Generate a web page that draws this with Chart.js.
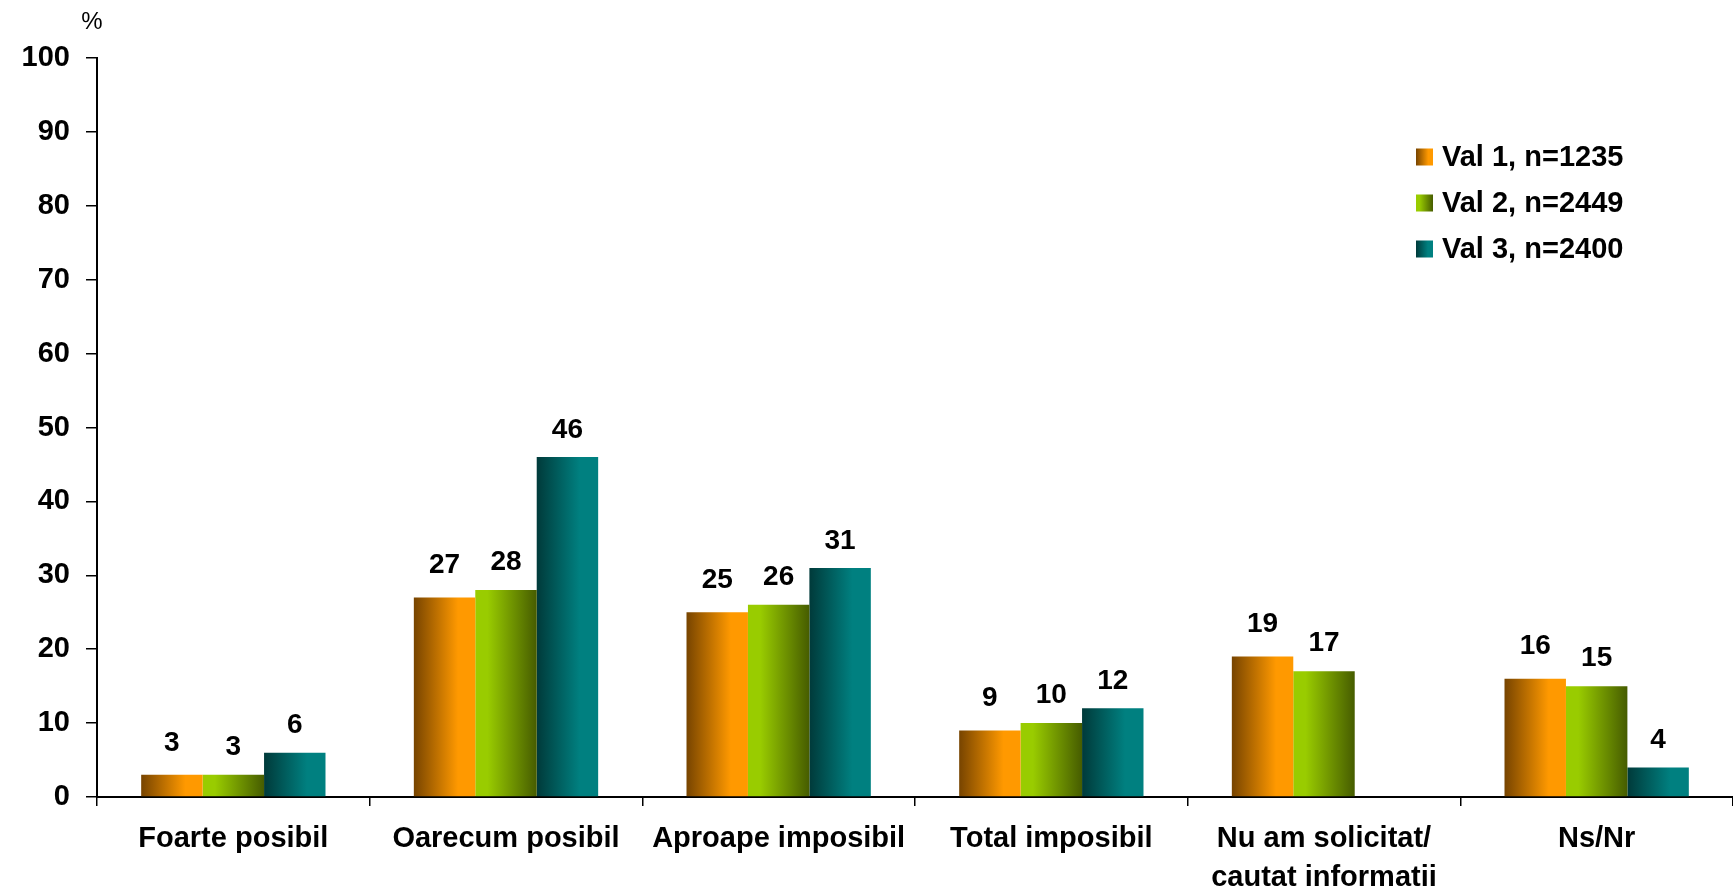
<!DOCTYPE html>
<html>
<head>
<meta charset="utf-8">
<script src="https://cdn.jsdelivr.net/npm/chart.js@4/dist/chart.umd.min.js"></script>
<style>
  body { margin: 0; background: #fff; }
  #wrap { width: 1733px; height: 889px; }
</style>
</head>
<body>
<div id="wrap"><canvas id="grafic" width="1733" height="889"></canvas></div>
<script>
const categorii = ["Foarte posibil", "Oarecum posibil", "Aproape imposibil", "Total imposibil", ["Nu am solicitat/", "cautat informatii"], "Ns/Nr"];
const etichete = ["Val 1, n=1235", "Val 2, n=2449", "Val 3, n=2400"];
const val1 = [3, 27, 25, 9, 19, 16];
const val2 = [3, 28, 26, 10, 17, 15];
const val3 = [6, 46, 31, 12, null, 4];
const tickuriY = [0, 10, 20, 30, 40, 50, 60, 70, 80, 90, 100];

// culori gradient (stanga -> dreapta) pentru fiecare serie
const gradienti = [
  [[0, "#774400"], [0.72, "#ff9900"], [1, "#ff9900"]],
  [[0, "#99cc00"], [0.2, "#99cc00"], [1, "#465c00"]],
  [[0, "#003a3a"], [0.7, "#008080"], [1, "#008080"]]
];
const catPct = 0.676;
const familie = "'Liberation Sans', Arial, sans-serif";

function faGradient(ctx, x0, w, stops) {
  const g = ctx.createLinearGradient(x0, 0, x0 + w, 0);
  stops.forEach(s => g.addColorStop(s[0], s[1]));
  return g;
}

function culoareBara(c) {
  const chart = c.chart;
  const sx = chart.scales.x;
  const stops = gradienti[c.datasetIndex];
  if (!sx || c.type !== "data") return stops[1][1];
  const latCat = (sx.right - sx.left) / categorii.length;
  const grup = latCat * catPct;
  const lat = grup / 3;
  const st = sx.getPixelForValue(c.dataIndex) - grup / 2 + c.datasetIndex * lat;
  if (!isFinite(st) || !isFinite(lat) || lat <= 0) return stops[1][1];
  return faGradient(chart.ctx, st, lat, stops);
}

// etichete de valori, legenda si "%"
const decalaj = [32, 28, 27];
const pluginExtra = {
  id: "extra",
  afterDatasetsDraw(chart) {
    const ctx = chart.ctx;
    ctx.save();
    ctx.fillStyle = "#000";
    ctx.font = "bold 28px " + familie;
    ctx.textAlign = "center";
    ctx.textBaseline = "middle";
    chart.data.datasets.forEach((ds, i) => {
      chart.getDatasetMeta(i).data.forEach((el, j) => {
        if (ds.data[j] == null) return;
        ctx.fillText(ds.data[j], el.x, el.y - decalaj[i]);
      });
    });

    // legenda
    ctx.textAlign = "left";
    ctx.font = "bold 29px " + familie;
    etichete.forEach((t, i) => {
      const y = 157 + i * 46;
      ctx.fillStyle = faGradient(ctx, 1416, 17, gradienti[i]);
      ctx.fillRect(1416, y - 8.5, 17, 17);
      ctx.fillStyle = "#000";
      ctx.fillText(t, 1442, y + 1);
    });

    ctx.font = "24px " + familie;
    ctx.textAlign = "center";
    ctx.fillText("%", 92, 22);
    ctx.restore();
  }
};

new Chart(document.getElementById("grafic"), {
  type: "bar",
  data: {
    labels: categorii,
    datasets: [
      { label: etichete[0], data: val1, backgroundColor: culoareBara },
      { label: etichete[1], data: val2, backgroundColor: culoareBara },
      { label: etichete[2], data: val3, backgroundColor: culoareBara }
    ]
  },
  options: {
    responsive: false,
    animation: false,
    layout: { padding: { top: 58, right: 0, left: 0, bottom: 0 } },
    datasets: { bar: { categoryPercentage: catPct, barPercentage: 1, borderWidth: 0 } },
    plugins: { legend: { display: false }, tooltip: { enabled: false } },
    scales: {
      x: {
        afterFit: s => { s.height = 92; },
        border: { display: true, color: "#000", width: 2 },
        grid: { offset: true, drawOnChartArea: false, color: "#000", lineWidth: 1.5, tickLength: 9 },
        ticks: {
          color: "#000",
          font: { family: familie, size: 29, weight: "bold", lineHeight: 1.35 },
          padding: 13,
          maxRotation: 0,
          autoSkip: false
        }
      },
      y: {
        min: 0,
        max: 100,
        afterFit: s => { s.width = 97; },
        afterBuildTicks: s => { s.ticks = tickuriY.map(v => ({ value: v })); },
        border: { display: true, color: "#000", width: 2 },
        grid: { drawOnChartArea: false, color: "#000", lineWidth: 1.5, tickLength: 11 },
        ticks: {
          color: "#000",
          font: { family: familie, size: 29, weight: "bold" },
          padding: 16
        }
      }
    }
  },
  plugins: [pluginExtra]
});
</script>
</body>
</html>
